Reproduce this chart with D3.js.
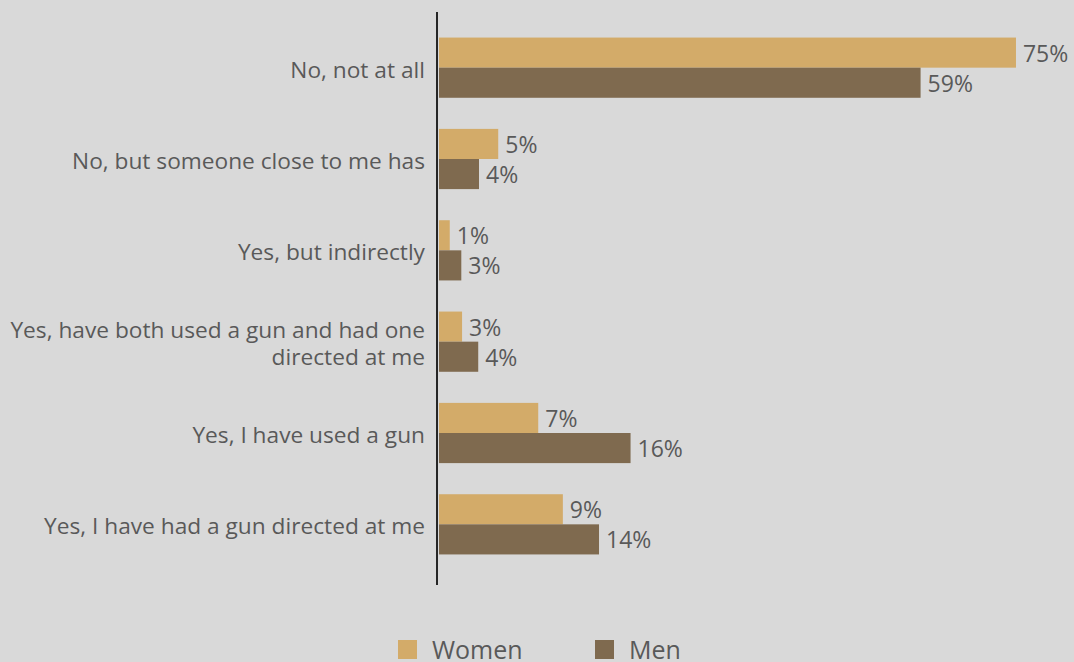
<!DOCTYPE html>
<html>
<head>
<meta charset="utf-8">
<script src="https://cdn.jsdelivr.net/npm/d3@7"></script>
<style>
  body { margin: 0; background: #d9d9d9; }
  svg { display: block; font-family: "Open Sans", sans-serif; }
</style>
</head>
<body>
<svg id="chart" width="1074" height="662"></svg>
<script>
// categories, top to bottom
var categories = [
  "No, not at all",
  "No, but someone close to me has",
  "Yes, but indirectly",
  "Yes, have both used a gun and had one|directed at me",
  "Yes, I have used a gun",
  "Yes, I have had a gun directed at me"
];
// data labels as printed
var womenLabels = ["75%", "5%", "1%", "3%", "7%", "9%"];
var menLabels = ["59%", "4%", "3%", "4%", "16%", "14%"];
// bar lengths (the printed labels don't match the bars exactly)
var womenBars = [75, 7.7, 1.4, 3.0, 12.9, 16.1];
var menBars = [62.6, 5.2, 2.9, 5.1, 24.9, 20.8];
var seriesNames = ["Women", "Men"];
var colors = ["#d3ab69", "#7f6a4f"];

var svg = d3.select("#chart"),
    margin = {top: 22, right: 20, bottom: 92, left: 439},
    width = 80 * 7.693,
    height = 662 - margin.top - margin.bottom;

var g = svg.append("g")
  .attr("transform", "translate(" + margin.left + "," + margin.top + ")");

var x = d3.scaleLinear().domain([0, 80]).range([0, width]);
var y = d3.scaleBand().domain(categories).range([0, 548]).paddingInner(31 / 91).paddingOuter(15.5 / 91);
var sub = d3.scaleBand().domain(seriesNames).range([0, y.bandwidth()]);

var rows = categories.map(function(c, i) {
  return {
    cat: c,
    bars: [
      {name: "Women", value: womenBars[i], label: womenLabels[i]},
      {name: "Men", value: menBars[i], label: menLabels[i]}
    ]
  };
});

var row = g.selectAll(".row")
  .data(rows)
  .enter().append("g")
  .attr("class", "row")
  .attr("transform", function(d) { return "translate(0," + y(d.cat) + ")"; });

row.selectAll("rect")
  .data(function(d) { return d.bars; })
  .enter().append("rect")
  .attr("x", 0)
  .attr("y", function(d) { return sub(d.name); })
  .attr("width", function(d) { return x(d.value); })
  .attr("height", sub.bandwidth())
  .attr("fill", function(d, i) { return colors[i]; });

row.selectAll("text.val")
  .data(function(d) { return d.bars; })
  .enter().append("text")
  .attr("class", "val")
  .attr("x", function(d) { return x(d.value) + 7; })
  .attr("y", function(d) { return sub(d.name) + sub.bandwidth() / 2 + 1; })
  .attr("dy", "0.35em")
  .attr("fill", "#595959")
  .style("font-size", "23px")
  .text(function(d) { return d.label; });

// category labels, right aligned left of the axis
var cat = row.append("text")
  .attr("text-anchor", "end")
  .attr("fill", "#595959")
  .style("font-size", "22.7px");
cat.each(function(d) {
  var lines = d.cat.split("|");
  var t = d3.select(this);
  var mid = y.bandwidth() / 2 + 2;
  lines.forEach(function(line, k) {
    t.append("tspan")
      .attr("x", -14)
      .attr("y", mid + (k - (lines.length - 1) / 2) * 27)
      .attr("dy", "0.35em")
      .text(line);
  });
});

// vertical axis line
g.append("line")
  .attr("x1", -2).attr("x2", -2)
  .attr("y1", -10).attr("y2", 563)
  .attr("stroke", "#262626")
  .attr("stroke-width", 2);

// legend
var legend = svg.append("g").attr("transform", "translate(398,640)");
var item = legend.selectAll("g")
  .data(seriesNames)
  .enter().append("g")
  .attr("transform", function(d, i) { return "translate(" + (i * 197) + ",0)"; });
item.append("rect")
  .attr("width", 19).attr("height", 19)
  .attr("fill", function(d, i) { return colors[i]; });
item.append("text")
  .attr("x", 34).attr("y", 19)
  .attr("fill", "#595959")
  .style("font-size", "25px")
  .text(function(d) { return d; });
</script>
</body>
</html>
